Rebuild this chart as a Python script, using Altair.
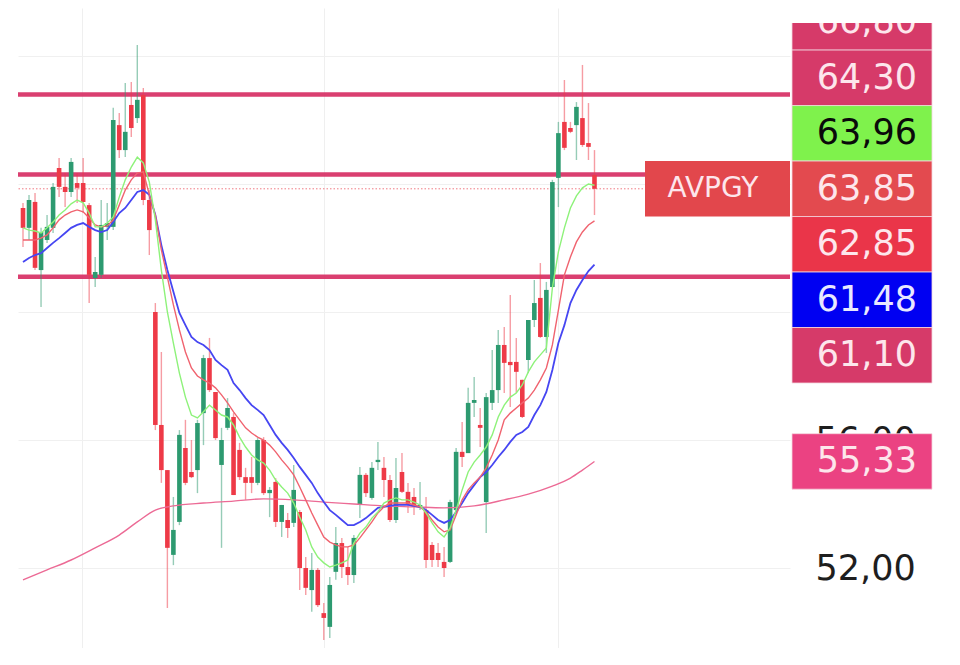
import altair as alt
import pandas as pd

# ---------------- data ----------------
opens = [63.25, 62.63, 63.44, 61.31, 62.25, 62.63, 64.50, 63.91, 63.75, 64.03,
         64.03, 63.34, 61.06, 61.16, 62.66, 62.66, 65.84, 65.06, 66.47, 66.06,
         66.78, 63.50, 60.00, 56.47, 55.06, 52.41, 53.44, 55.75, 55.00, 55.06,
         56.84, 58.56, 57.50, 55.22, 56.38, 56.72, 55.69, 54.84, 54.84, 54.66,
         56.00, 54.34, 54.69, 53.44, 53.50, 53.41, 53.75, 52.00, 51.31, 51.94,
         50.59, 50.16, 51.88, 52.78, 52.03, 51.78, 53.97, 54.91, 54.19, 55.31,
         55.13, 54.75, 53.50, 55.00, 54.38, 54.22, 53.88, 53.81, 52.72, 52.47,
         52.19, 52.19, 53.81, 55.63, 55.59, 57.16, 56.47, 54.06, 57.16, 57.56,
         58.97, 58.44, 58.44, 57.88, 58.50, 59.75, 60.44, 59.22, 60.78, 64.19,
         65.94, 65.75, 65.84, 66.06, 65.28, 64.28]
highs = [63.41, 63.66, 63.72, 62.63, 63.03, 64.03, 64.81, 64.34, 64.81, 64.34,
         64.81, 63.41, 61.72, 63.50, 63.41, 66.38, 66.22, 67.16, 67.19, 68.34,
         67.00, 63.81, 60.28, 58.75, 55.06, 54.22, 56.31, 56.63, 56.00, 56.63,
         58.66, 59.19, 57.50, 56.38, 57.31, 56.84, 55.91, 55.13, 55.47, 56.06,
         56.09, 54.53, 54.81, 53.97, 53.72, 55.22, 53.81, 52.34, 52.47, 52.00,
         50.91, 51.72, 53.28, 52.94, 52.66, 53.03, 55.16, 54.97, 55.31, 55.94,
         55.47, 54.91, 55.44, 55.59, 54.66, 54.50, 54.69, 54.22, 52.81, 52.78,
         52.66, 54.13, 55.75, 56.56, 57.63, 57.97, 57.00, 57.47, 58.81, 59.44,
         59.53, 60.53, 59.19, 57.88, 59.75, 61.00, 61.53, 60.94, 64.13, 65.94,
         67.25, 65.94, 66.56, 67.72, 66.53, 65.06]
lows = [62.03, 62.25, 61.31, 60.16, 62.16, 62.47, 63.59, 63.28, 63.59, 63.41,
        63.09, 60.28, 60.78, 61.06, 62.25, 62.56, 64.81, 64.84, 65.47, 65.91,
        63.34, 61.78, 56.31, 54.66, 50.75, 52.09, 53.34, 54.59, 54.81, 54.34,
        55.84, 57.50, 56.00, 52.63, 56.31, 54.28, 54.75, 54.13, 54.34, 54.59,
        54.28, 53.59, 53.28, 52.97, 52.94, 53.28, 51.31, 51.16, 50.63, 50.78,
        49.75, 49.81, 51.63, 51.69, 51.47, 51.53, 53.56, 54.22, 54.13, 55.06,
        54.22, 53.44, 53.41, 54.34, 53.72, 53.66, 53.81, 52.00, 52.03, 52.03,
        51.72, 52.16, 53.75, 55.16, 55.59, 56.72, 55.78, 53.09, 56.94, 57.16,
        57.47, 57.03, 57.47, 56.69, 58.09, 59.53, 59.19, 58.72, 60.78, 63.28,
        65.06, 65.59, 64.75, 65.16, 64.75, 63.03]
closes = [62.63, 63.50, 61.38, 62.50, 62.66, 63.91, 63.91, 63.75, 64.69, 63.88,
          63.44, 61.16, 61.25, 62.72, 62.78, 66.00, 65.06, 65.63, 65.75, 66.63,
          63.50, 62.56, 56.47, 55.06, 52.63, 53.19, 56.16, 54.66, 54.84, 56.53,
          58.56, 57.56, 56.06, 56.00, 57.00, 54.28, 54.84, 54.66, 54.66, 56.00,
          54.34, 54.44, 53.44, 53.97, 53.25, 54.44, 52.00, 51.38, 51.94, 50.84,
          50.44, 51.47, 52.78, 52.03, 51.78, 52.94, 54.91, 54.34, 55.13, 55.38,
          54.75, 53.50, 54.50, 54.38, 53.97, 53.91, 53.97, 52.25, 52.25, 52.25,
          52.00, 54.06, 55.63, 55.47, 57.16, 57.25, 56.38, 57.34, 57.56, 58.97,
          58.41, 58.34, 58.13, 56.72, 59.75, 60.28, 59.22, 60.69, 64.06, 65.59,
          65.13, 65.63, 66.41, 65.22, 65.16, 63.85]

ma_fast = [62.63, 62.56, 62.53, 62.47, 62.63, 62.81, 63.03, 63.19, 63.38, 63.50,
           63.41, 63.09, 62.66, 62.66, 62.78, 62.97, 63.59, 64.13, 64.53, 64.84,
           64.66, 64.06, 62.88, 61.31, 60.00, 59.03, 58.09, 57.34, 56.78, 56.69,
           56.88, 57.09, 56.94, 56.78, 56.72, 56.47, 56.09, 55.78, 55.53, 55.38,
           55.28, 55.06, 54.75, 54.53, 54.34, 54.03, 53.59, 53.19, 52.66, 52.34,
           52.16, 52.03, 52.09, 52.16, 52.25, 52.78, 53.09, 53.28, 53.56, 53.75,
           54.03, 54.13, 54.19, 54.13, 54.13, 54.06, 53.97, 53.72, 53.41, 53.13,
           52.97, 53.25, 53.81, 54.44, 55.00, 55.31, 55.53, 55.78, 56.16, 56.72,
           57.09, 57.34, 57.47, 57.72, 58.13, 58.44, 58.66, 58.88, 60.75, 61.88,
           62.63, 63.25, 63.63, 63.88, 64.00, 63.96]
ma_mid = [62.25, 62.25, 62.25, 62.31, 62.41, 62.63, 62.88, 63.03, 63.13, 63.19,
          63.13, 62.94, 62.72, 62.66, 62.69, 62.88, 63.34, 63.81, 64.13, 64.34,
          64.38, 63.66, 63.03, 61.94, 61.09, 60.22, 59.44, 58.75, 58.25, 58.00,
          57.88, 57.78, 57.63, 57.41, 57.16, 56.88, 56.63, 56.38, 56.22, 56.09,
          56.00, 55.84, 55.63, 55.38, 55.16, 54.91, 54.53, 54.13, 53.72, 53.34,
          52.97, 52.81, 52.72, 52.66, 52.66, 52.72, 52.94, 53.19, 53.44, 53.72,
          53.91, 54.03, 54.03, 54.03, 54.03, 53.97, 53.91, 53.75, 53.50, 53.28,
          53.13, 53.19, 53.66, 54.13, 54.44, 54.66, 54.84, 55.13, 55.53, 56.00,
          56.63, 56.84, 57.00, 57.16, 57.31, 57.56, 57.88, 58.25, 58.97, 60.06,
          61.16, 61.72, 62.19, 62.50, 62.72, 62.85]
ma_slow = [61.56, 61.69, 61.78, 61.84, 62.00, 62.16, 62.31, 62.47, 62.63, 62.72,
           62.78, 62.66, 62.56, 62.50, 62.56, 62.81, 63.09, 63.25, 63.50, 63.75,
           63.81, 63.66, 63.03, 62.09, 61.31, 60.63, 59.97, 59.59, 59.22, 59.06,
           58.97, 58.81, 58.50, 58.34, 58.19, 57.78, 57.56, 57.31, 57.09, 56.94,
           56.78, 56.47, 56.16, 55.91, 55.69, 55.44, 55.16, 54.91, 54.66, 54.34,
           54.06, 53.81, 53.66, 53.50, 53.34, 53.34, 53.44, 53.56, 53.72, 53.88,
           53.91, 53.94, 53.97, 53.97, 53.97, 53.94, 53.91, 53.81, 53.66, 53.50,
           53.41, 53.50, 53.75, 54.03, 54.34, 54.59, 54.84, 55.00, 55.22, 55.47,
           55.69, 55.94, 56.16, 56.25, 56.41, 56.78, 57.09, 57.50, 58.19, 59.03,
           59.59, 60.28, 60.69, 61.00, 61.28, 61.48]
ma_long_idx = [0, 4, 8, 12, 16, 19, 22, 25, 30, 35, 40, 45, 50, 55, 60, 65, 70,
               75, 80, 84, 88, 91, 93, 95]
ma_long = [51.63, 51.94, 52.25, 52.63, 53.03, 53.44, 53.81, 53.94, 54.03, 54.09,
           54.16, 54.13, 54.06, 54.00, 53.94, 53.91, 53.88, 53.94, 54.13, 54.31,
           54.56, 54.81, 55.06, 55.33]

levels = [66.80, 64.30, 61.10]
last_price = 63.85
symbol = "AVPGY"

label_values = [66.80, 64.30, 63.96, 63.85, 62.85, 61.48, 61.10, 55.33]
label_fills = ["#d63a69", "#d63a69", "#7ff24c", "#e34a4f", "#ea3549",
               "#0000f2", "#d63a69", "#eb4282"]
label_text_colors = ["#fde6ec", "#fde6ec", "#0a0a0a", "#fde6ec", "#fde6ec",
                     "#e8e8ff", "#fde6ec", "#fde6ec"]
axis_ticks = [52, 56, 60, 64, 68]
grid_x = [9.85, 50.0, 88.9]

# ---------------- styling constants ----------------
GREEN = "#2d9a70"
RED = "#ee3a47"
LINE_RED = "#d62a61"
X_MAX = 126.67
Y_DOM = [49.5, 69.5]
SLOT = 1.734      # label slot height (price units)
FONT = "DejaVu Sans"

# ---------------- build tables ----------------
n = len(closes)
candles = pd.DataFrame({"i": list(range(n)), "open": opens, "high": highs,
                        "low": lows, "close": closes})
candles["dir"] = ["up" if c >= o else "down" for o, c in zip(opens, closes)]

ma_df = pd.DataFrame({"i": list(range(n)), "fast": ma_fast, "mid": ma_mid,
                      "slow": ma_slow})
long_df = pd.DataFrame({"i": ma_long_idx, "v": ma_long})

# stacked price labels: the last-price label stays at its value, others are pushed apart
anchor = label_values.index(last_price)
pos = [0.0] * len(label_values)
pos[anchor] = label_values[anchor]
for j in range(anchor - 1, -1, -1):
    pos[j] = max(label_values[j], pos[j + 1] + SLOT)
for j in range(anchor + 1, len(label_values)):
    pos[j] = min(label_values[j], pos[j - 1] - SLOT)
labels = pd.DataFrame({
    "pos": pos,
    "top": [p + SLOT / 2 for p in pos],
    "bot": [p - SLOT / 2 for p in pos],
    "txt": [f"{v:.2f}".replace(".", ",") for v in label_values],
    "fill": label_fills,
    "tcol": label_text_colors,
})
sym_df = labels.iloc[[anchor]].assign(sym=symbol)

xs = alt.Scale(domain=[0, X_MAX], nice=False, zero=False)
ys = alt.Scale(domain=Y_DOM, nice=False, zero=False)
col = alt.Scale(domain=["up", "down"], range=[GREEN, RED])

x_enc = alt.X("i:Q", scale=xs, axis=alt.Axis(values=grid_x, grid=True, labels=False,
                                             ticks=False, domain=False, title=None,
                                             gridColor="#efefef", gridWidth=1))
y_axis = alt.Axis(orient="right", values=axis_ticks, grid=True, gridColor="#f0f0f0",
                  ticks=False, domain=False, title=None, labelPadding=25,
                  labelFont=FONT, labelFontSize=35, labelColor="#1e1e1e",
                  labelAlign="left", labelBaseline="middle", labelFlush=False,
                  labelExpr="replace(format(datum.value, '.2f'), '.', ',')")

hl = alt.Chart(pd.DataFrame({"v": levels})).mark_rule(
    color=LINE_RED, strokeWidth=4.5, opacity=0.9).encode(
    y=alt.Y("v:Q", scale=ys, axis=y_axis))

last_line = alt.Chart(pd.DataFrame({"v": [last_price]})).mark_rule(
    color="#f07a82", strokeWidth=1, strokeDash=[1.5, 2]).encode(y="v:Q")

base = alt.Chart(candles)
wicks = base.mark_rule(strokeWidth=1.4, opacity=0.5).encode(
    x=x_enc, y=alt.Y("low:Q", scale=ys), y2="high:Q",
    color=alt.Color("dir:N", scale=col, legend=None))
bodies = base.mark_bar(size=4.6).encode(
    x="i:Q", y="open:Q", y2="close:Q",
    color=alt.Color("dir:N", scale=col, legend=None))

ma_base = alt.Chart(ma_df)
l_fast = ma_base.mark_line(color="#8ef27a", strokeWidth=1.4).encode(x="i:Q", y="fast:Q")
l_mid = ma_base.mark_line(color="#f0636f", strokeWidth=1.4).encode(x="i:Q", y="mid:Q")
l_slow = ma_base.mark_line(color="#4646f2", strokeWidth=1.8).encode(x="i:Q", y="slow:Q")
l_long = alt.Chart(long_df).mark_line(color="#ec6a95", strokeWidth=1.4,
                                      interpolate="monotone").encode(x="i:Q", y="v:Q")

lab_base = alt.Chart(labels)
boxes = lab_base.mark_rect(stroke="#f4d6de", strokeWidth=0.8).encode(
    x=alt.value(774), x2=alt.value(914),
    y="top:Q", y2="bot:Q", color=alt.Color("fill:N", scale=None))
box_txt = lab_base.mark_text(font=FONT, fontSize=35, align="right",
                             baseline="middle").encode(
    x=alt.value(899), y="pos:Q", text="txt:N", color=alt.Color("tcol:N", scale=None))

sym_box = alt.Chart(sym_df).mark_rect(color="#e2474c").encode(
    x=alt.value(627), x2=alt.value(772), y="top:Q", y2="bot:Q")
sym_txt = alt.Chart(sym_df).mark_text(font=FONT, fontSize=28, align="center",
                                      baseline="middle", color="#fde6ec").encode(
    x=alt.value(695), y="pos:Q", text="sym:N")

cover = alt.Chart(pd.DataFrame({"k": [0]})).mark_rect(color="white").encode(
    x=alt.value(772), x2=alt.value(930), y=alt.value(0), y2=alt.value(15))

chart = alt.layer(
    hl, last_line, wicks, bodies, l_long, l_slow, l_mid, l_fast,
    sym_box, sym_txt, boxes, box_txt, cover
).properties(
    width=772, height=640,
    background="white",
    autosize=alt.AutoSizeParams(type="none"),
    padding={"left": 10, "top": 0, "right": 160, "bottom": 0},
).configure_view(stroke=None)

chart.save("out.html", embed_options={"renderer": "svg", "actions": False})
